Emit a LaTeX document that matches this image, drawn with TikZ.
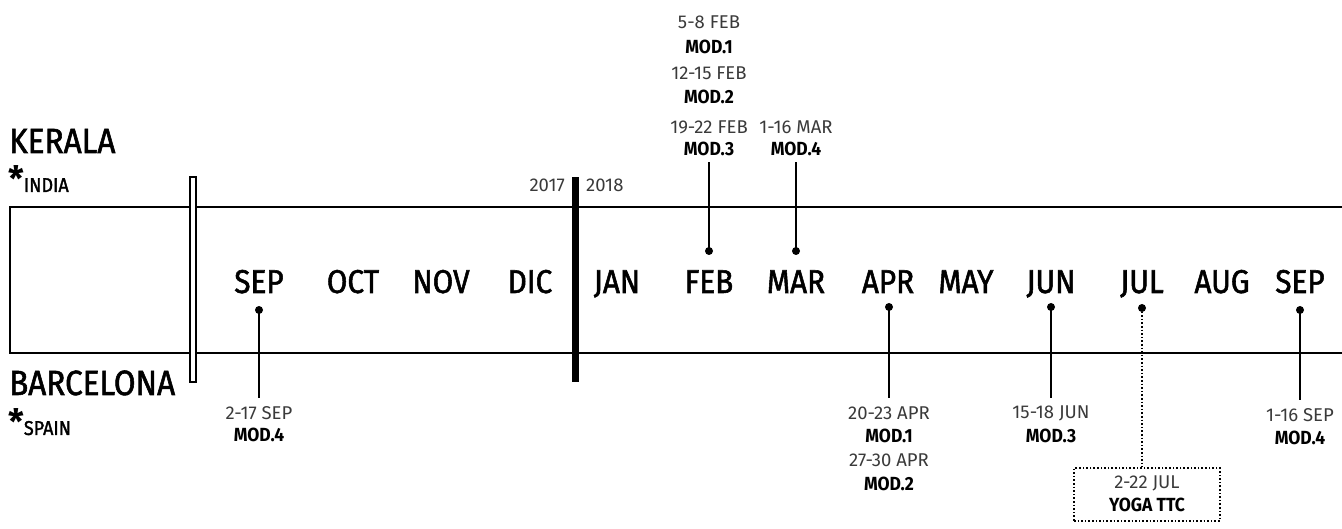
\documentclass[tikz,border=0pt]{standalone}
\usepackage{fontspec}
\setmainfont{Fira Sans}
\newfontfamily\medfont{Fira Sans}[FakeBold=1.6, FakeStretch=0.9]
\newfontfamily\modfont{Fira Sans}[FakeStretch=0.92]
\definecolor{dategray}{HTML}{3A3A3A}
\tikzset{
  month/.style={font=\medfont\fontsize{33}{33}\selectfont, inner sep=0pt, anchor=base},
  place/.style={font=\medfont\fontsize{35}{35}\selectfont, inner sep=0pt, anchor=base west},
  country/.style={inner sep=0pt, anchor=base west},
  datetxt/.style={text=dategray, font=\fontsize{18.5}{18.5}\selectfont, inner sep=0pt},
  modtxt/.style={font=\modfont\bfseries\fontsize{19}{19}\selectfont, inner sep=0pt},
  pin/.style={circle, fill=black, inner sep=0pt, minimum size=8pt},
  stem/.style={line width=1.3pt},
  dotstem/.style={line width=1.6pt, dotted},
  frame/.style={line width=2pt},
}
\begin{document}
\begin{tikzpicture}[x=1pt,y=-1pt]
\useasboundingbox (0,0) rectangle (1342,529);
% main band
\draw[frame] (1342,207) -- (10,207) -- (10,353) -- (1342,353);
% double bar
\draw[line width=1.3pt, fill=white] (190,177) rectangle (196,382);
% year bar
\fill (572,177) rectangle (579,382);
\node[datetxt, anchor=east] (y17) at (565,185) {2017};
\node[datetxt, anchor=west] (y18) at (586,185) {2018};
% places
\node[place] (kerala) at (9,153) {KERALA};
\node[country] (india) at (8,192) {{\fontsize{35}{35}\selectfont\bfseries *}{\medfont\fontsize{20}{20}\selectfont INDIA}};
\node[place] (barcelona) at (9,395) {BARCELONA};
\node[country] (spain) at (8,435) {{\fontsize{35}{35}\selectfont\bfseries *}{\medfont\fontsize{20}{20}\selectfont SPAIN}};
% months
\foreach \n/\x/\t in {sepA/259/SEP, oct/353/OCT, nov/441/NOV, dic/530/DIC, jan/617/JAN, feb/709/FEB, mar/796/MAR, apr/888/APR, may/966/MAY, jun/1051/JUN, jul/1142/JUL, aug/1222/AUG, sepB/1300/SEP}
  \node[month] (m\n) at (\x,293) {\t};
% pins
\node[pin] (pSepA) at (259,310) {};
\node[pin] (pFeb) at (709,251) {};
\node[pin] (pMar) at (796,251) {};
\node[pin] (pApr) at (889,307) {};
\node[pin] (pJun) at (1051,307) {};
\node[pin] (pJul) at (1142,308) {};
\node[pin] (pSepB) at (1300,310) {};
% label ends
\coordinate (eSepA) at (259,398);
\coordinate (eFeb) at (709,162);
\coordinate (eMar) at (796,162);
\coordinate (eApr) at (889,398);
\coordinate (eJun) at (1051,398);
\coordinate (eSepB) at (1300,400);
% stems
\draw[stem] (pSepA.center) -- (eSepA);
\draw[stem] (pFeb.center) -- (eFeb);
\draw[stem] (pMar.center) -- (eMar);
\draw[stem] (pApr.center) -- (eApr);
\draw[stem] (pJun.center) -- (eJun);
\draw[stem] (pSepB.center) -- (eSepB);
% labels SEP 2017
\node[datetxt] (dSepA) at (259,413) {2-17 SEP};
\node[modtxt] (tSepA) at (259,435) {MOD.4};
% labels FEB
\node[datetxt] (dFeb1) at (709,22) {5-8 FEB};
\node[modtxt] (tFeb1) at (709,47) {MOD.1};
\node[datetxt] (dFeb2) at (709,73) {12-15 FEB};
\node[modtxt] (tFeb2) at (709,97) {MOD.2};
\node[datetxt] (dFeb3) at (709,127) {19-22 FEB};
\node[modtxt] (tFeb3) at (709,149) {MOD.3};
% MAR
\node[datetxt] (dMar) at (796,127) {1-16 MAR};
\node[modtxt] (tMar) at (796,149) {MOD.4};
% APR
\node[datetxt] (dApr1) at (889,413) {20-23 APR};
\node[modtxt] (tApr1) at (889,436) {MOD.1};
\node[datetxt] (dApr2) at (889,460) {27-30 APR};
\node[modtxt] (tApr2) at (889,484) {MOD.2};
% JUN
\node[datetxt] (dJun) at (1051,413) {15-18 JUN};
\node[modtxt] (tJun) at (1051,436) {MOD.3};
% SEP 2018
\node[datetxt] (dSepB) at (1300,415) {1-16 SEP};
\node[modtxt] (tSepB) at (1300,438) {MOD.4};
% JUL yoga box
\node[draw, dotted, line width=1.6pt, minimum width=146pt, minimum height=53pt, inner sep=0pt] (ttc) at (1147,494.5) {};
\node[datetxt] (dJul) at (1147,483) {2-22 JUL};
\node[modtxt] (tJul) at (1147,505) {YOGA TTC};
\draw[dotstem] (pJul.center) -- (pJul.center |- ttc.north);
\end{tikzpicture}
\end{document}
